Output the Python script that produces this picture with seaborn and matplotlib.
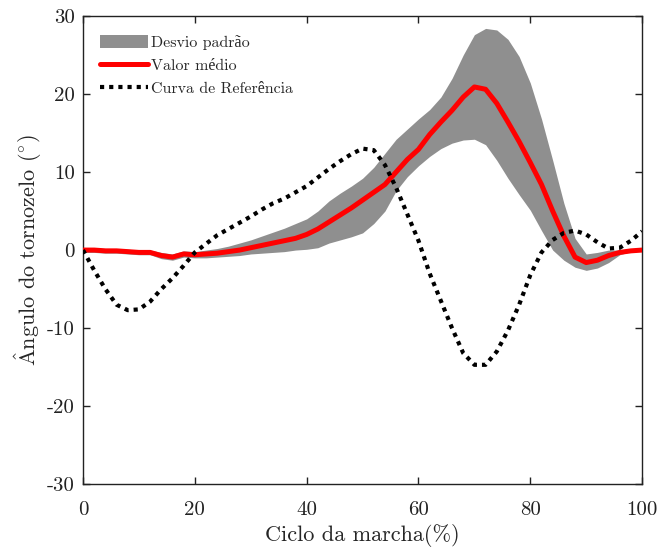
import matplotlib
matplotlib.use("Agg")
import matplotlib.pyplot as plt
import seaborn as sns
import pandas as pd
from matplotlib.patches import Patch
from matplotlib.lines import Line2D

# Percent of gait cycle at which each series is sampled
gait_pct = [0, 2, 4, 6, 8, 10, 12, 14, 16, 18, 20, 22, 24, 26, 28, 30, 32, 34, 36, 38,
            40, 42, 44, 46, 48, 50, 52, 54, 56, 58, 60, 62, 64, 66, 68, 70, 72, 74, 76, 78,
            80, 82, 84, 86, 88, 90, 92, 94, 96, 98, 100]

# Mean ankle angle (deg)
mean_angle = [0.0, 0.0, -0.1, -0.1, -0.2, -0.3, -0.3, -0.7, -0.9, -0.5, -0.6, -0.5, -0.4, -0.2, 0.0,
              0.3, 0.6, 0.9, 1.2, 1.5, 2.0, 2.7, 3.6, 4.5, 5.4, 6.4, 7.4, 8.4, 10.0, 11.6,
              12.9, 14.8, 16.4, 17.9, 19.6, 20.9, 20.6, 18.8, 16.4, 13.9, 11.2, 8.4, 5.0, 1.8,
              -0.9, -1.6, -1.3, -0.7, -0.3, -0.1, 0.0]

# Mean +/- one standard deviation (deg)
sd_upper = [0.3, 0.3, 0.2, 0.2, 0.1, 0.0, 0.0, -0.3, -0.5, -0.1, -0.2, 0.0, 0.2, 0.5, 0.9,
            1.3, 1.8, 2.3, 2.8, 3.4, 4.0, 5.0, 6.3, 7.3, 8.2, 9.2, 10.6, 12.4, 14.2, 15.5,
            16.8, 18.0, 19.6, 22.0, 25.0, 27.6, 28.4, 28.2, 27.0, 24.8, 21.4, 16.8, 11.5, 6.0,
            1.5, -0.5, -0.3, 0.0, 0.0, 0.0, 0.0]
sd_lower = [-0.3, -0.3, -0.4, -0.4, -0.5, -0.6, -0.6, -1.1, -1.3, -0.9, -1.0, -1.0, -0.9, -0.8, -0.7,
            -0.5, -0.4, -0.3, -0.2, 0.0, 0.1, 0.3, 0.9, 1.3, 1.7, 2.2, 3.4, 5.0, 7.6, 9.4,
            10.8, 12.0, 13.0, 13.7, 14.1, 14.2, 13.5, 11.5, 9.2, 7.1, 5.1, 2.5, 0.0, -1.3,
            -2.2, -2.6, -2.3, -1.6, -0.6, -0.2, 0.0]

# Reference (normative) ankle curve (deg)
ref_angle = [0.0, -2.6, -5.0, -7.0, -7.7, -7.6, -6.6, -5.0, -3.6, -2.0, -0.3, 0.8, 1.9, 2.7, 3.5,
             4.3, 5.2, 6.0, 6.6, 7.4, 8.2, 9.3, 10.4, 11.4, 12.3, 13.0, 12.8, 10.9, 8.0, 4.6,
             1.2, -3.0, -6.5, -10.0, -13.2, -14.7, -14.7, -13.0, -10.3, -7.0, -3.2, -0.3, 1.3,
             2.2, 2.5, 2.0, 1.0, 0.2, 0.3, 1.2, 2.4]

x_ticks = [0, 20, 40, 60, 80, 100]
y_ticks = [-30, -20, -10, 0, 10, 20, 30]

sns.set_theme(style="ticks")
plt.rcParams["font.family"] = ["cmr10", "Liberation Serif"]
plt.rcParams["axes.unicode_minus"] = False
plt.rcParams["mathtext.fontset"] = "cm"

df = pd.DataFrame({"pct": gait_pct, "mean": mean_angle, "ref": ref_angle,
                   "hi": sd_upper, "lo": sd_lower})

fig = plt.figure(figsize=(6.62, 5.49), dpi=100)
ax = fig.add_axes([0.1254, 0.118, 0.8446, 0.853])

band_color = "#8f8f8f"
ax.fill_between(df["pct"], df["lo"], df["hi"], color=band_color, linewidth=0, zorder=1)
sns.lineplot(data=df, x="pct", y="mean", ax=ax, color="#ff0000", linewidth=3.6,
             zorder=3, sort=False, solid_joinstyle="round", solid_capstyle="round")
sns.lineplot(data=df, x="pct", y="ref", ax=ax, color="black", linewidth=3.0,
             linestyle=(0, (1, 1.2)), zorder=4, sort=False)

ax.set_xlim(0, 100)
ax.set_ylim(-30, 30)
ax.set_xticks(x_ticks)
ax.set_yticks(y_ticks)
ax.set_xticklabels([str(v) for v in x_ticks])
ax.set_yticklabels([str(v) for v in y_ticks])
ax.tick_params(direction="in", length=5, width=1, top=True, right=True,
               labelsize=15, colors="#222222")
ax.tick_params(axis="x", pad=12)
ax.tick_params(axis="y", pad=6)
for s in ax.spines.values():
    s.set_linewidth(1.0)
    s.set_color("#222222")

ax.set_xlabel("Ciclo da marcha(%)", fontsize=16, labelpad=4)
ax.set_ylabel(r"$\hat{\mathrm{A}}$ngulo do tornozelo ($^{\circ}$)", fontsize=16, labelpad=2)

handles = [
    Patch(facecolor=band_color, edgecolor="none"),
    Line2D([], [], color="#ff0000", linewidth=3.6),
    Line2D([], [], color="black", linewidth=3.0, linestyle=(0, (1, 1.2))),
]
labels = ["Desvio padrão", "Valor médio", "Curva de Referência"]
ax.legend(handles, labels, loc="upper left", frameon=False, fontsize=11.5,
          handlelength=3.0, handleheight=0.9, handletextpad=0.2, labelspacing=0.5,
          borderaxespad=0.5, bbox_to_anchor=(0.005, 0.99))

fig.savefig("out.png", dpi=100)
